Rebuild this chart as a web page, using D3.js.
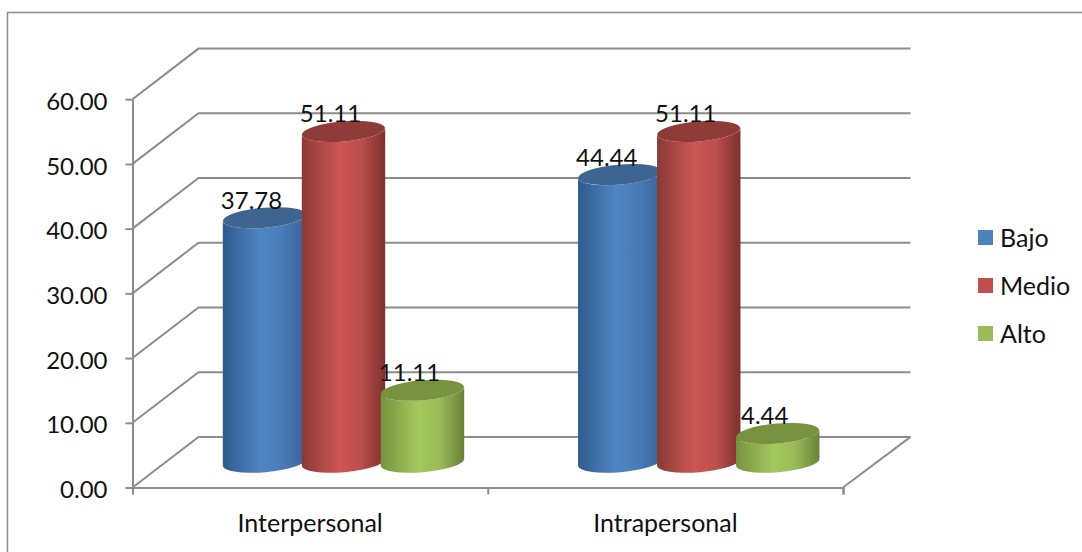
<!DOCTYPE html>
<html>
<head>
<meta charset="utf-8">
<script src="https://cdn.jsdelivr.net/npm/d3@7"></script>
<style>
	html, body { margin: 0; padding: 0; background: #fff; overflow: hidden; }
	text { font-family: Lato, "Open Sans", sans-serif; fill: #111; }
</style>
</head>
<body>
<div id="main-container"></div>
<script>

var categories = ["Interpersonal", "Intrapersonal"];
var seriesNames = ["Bajo", "Medio", "Alto"];
var bajo = [37.78, 44.44];
var medio = [51.11, 51.11];
var alto = [11.11, 4.44];
var yTicks = [0, 10, 20, 30, 40, 50, 60];

var seriesValues = [bajo, medio, alto];
var seriesColors = [
	{ id: "blue", edge: "#2f5a8c", mid: "#5085c4", mid2: "#4a7cb8", right: "#386497", top: "#3e6491" },
	{ id: "red", edge: "#8a3a38", mid: "#cd5653", mid2: "#bd4f4c", right: "#7c3230", top: "#8f3b39" },
	{ id: "green", edge: "#76933f", mid: "#a5c85e", mid2: "#9abb58", right: "#698238", top: "#779340" }
];
var legendColors = ["#4f81bd", "#c0504d", "#9bbb59"];

var gridColor = "#8c8c8c";
var depthX = 67.5, depthY = -50.6;
var barDepthX = 66;

var svg = d3.select("#main-container").append("svg")
	.attr("width", 1082)
	.attr("height", 552)
	.style("display", "block");

var x = d3.scaleBand().domain(categories).range([132.5, 843]);
var xEdges = d3.scaleLinear().domain([0, categories.length]).range([132.5, 843]);
var y = d3.scaleLinear().domain([0, 60]).range([487.5, 99.2]);

// gradients for the cylinder sides
var defs = svg.append("defs");
seriesColors.forEach(function(c) {
	var g = defs.append("linearGradient").attr("id", "side-" + c.id);
	g.append("stop").attr("offset", "0%").attr("stop-color", c.edge);
	g.append("stop").attr("offset", "45%").attr("stop-color", c.mid);
	g.append("stop").attr("offset", "70%").attr("stop-color", c.mid2);
	g.append("stop").attr("offset", "100%").attr("stop-color", c.right);
});

// outer chart frame
svg.append("path")
	.attr("d", "M7.5,552V12.5H1082")
	.attr("fill", "none")
	.attr("stroke", gridColor)
	.attr("stroke-width", 1.5);

// walls: back gridlines and the diagonals going to the front axis
var grid = svg.append("g").attr("fill", "none").attr("stroke", gridColor).attr("stroke-width", 2);
yTicks.forEach(function(t) {
	grid.append("path").attr("d", "M" + x.range()[0] + "," + y(t) +
		"L" + (x.range()[0] + barDepthX) + "," + (y(t) + depthY) +
		"H" + (x.range()[1] + depthX));
});
grid.append("path").attr("d", "M" + x.range()[1] + "," + y(0) + "L" + (x.range()[1] + depthX) + "," + (y(0) + depthY));

// axes
var yAxis = svg.append("g")
	.attr("transform", "translate(" + x.range()[0] + ",0)")
	.call(d3.axisLeft(y).tickValues(yTicks).tickFormat(d3.format(".2f")).tickSize(7).tickPadding(18).tickSizeOuter(0));
yAxis.selectAll("text").style("font-size", "24px").attr("dy", "0.42em");

var xAxis = svg.append("g")
	.attr("transform", "translate(0," + y(0) + ")")
	.call(d3.axisBottom(x).tickSize(0).tickPadding(27));
xAxis.selectAll("text").style("font-size", "25px");

var xTicks = svg.append("g")
	.attr("transform", "translate(0," + y(0) + ")")
	.call(d3.axisBottom(xEdges).tickValues([0, 1, 2]).tickSize(7).tickFormat(""));

svg.selectAll(".domain, .tick line").attr("stroke", gridColor).attr("stroke-width", 2);

// cylinders
var barStep = 79, barWidth = 83, groupInset = 57.5;
var tilt = -4.8, rx = 41.7, ry = 10;
var capDy = rx * Math.sin(-tilt * Math.PI / 180);

function sidePath(cx, yBase, yTop) {
	var l = cx - rx, r = cx + rx;
	return "M" + l + "," + (yTop + capDy) +
		"L" + l + "," + (yBase + capDy) +
		"A" + rx + "," + ry + " " + tilt + " 0 0 " + r + "," + (yBase - capDy) +
		"L" + r + "," + (yTop - capDy) +
		"A" + rx + "," + ry + " " + tilt + " 0 1 " + l + "," + (yTop + capDy) + "Z";
}

var bars = svg.append("g");
var labels = svg.append("g");
categories.forEach(function(cat, i) {
	seriesNames.forEach(function(name, s) {
		var v = seriesValues[s][i];
		var cx = x(cat) + groupInset + s * barStep + barWidth / 2 + barDepthX / 2;
		var yBase = y(0) + depthY / 2;
		var yTop = y(v) + depthY / 2;
		var c = seriesColors[s];

		bars.append("path")
			.attr("d", sidePath(cx, yBase, yTop))
			.attr("fill", "url(#side-" + c.id + ")");
		bars.append("ellipse")
			.attr("rx", rx)
			.attr("ry", ry)
			.attr("transform", "translate(" + cx + "," + yTop + ") rotate(" + tilt + ")")
			.attr("fill", c.top);

		labels.append("text")
			.attr("x", cx - 13)
			.attr("y", yTop - 9)
			.attr("text-anchor", "middle")
			.style("font-size", "24px")
			.text(d3.format(".2f")(v));
	});
});

// legend
var legendY = d3.scalePoint().domain(seriesNames).range([237.5, 333.5]);
var legend = svg.append("g");
seriesNames.forEach(function(name, s) {
	legend.append("rect")
		.attr("x", 978)
		.attr("y", legendY(name) - 7.5)
		.attr("width", 15)
		.attr("height", 15)
		.attr("fill", legendColors[s]);
	legend.append("text")
		.attr("x", 1000)
		.attr("y", legendY(name))
		.attr("dy", "0.36em")
		.style("font-size", "25px")
		.text(name);
});

</script>
</body>
</html>
